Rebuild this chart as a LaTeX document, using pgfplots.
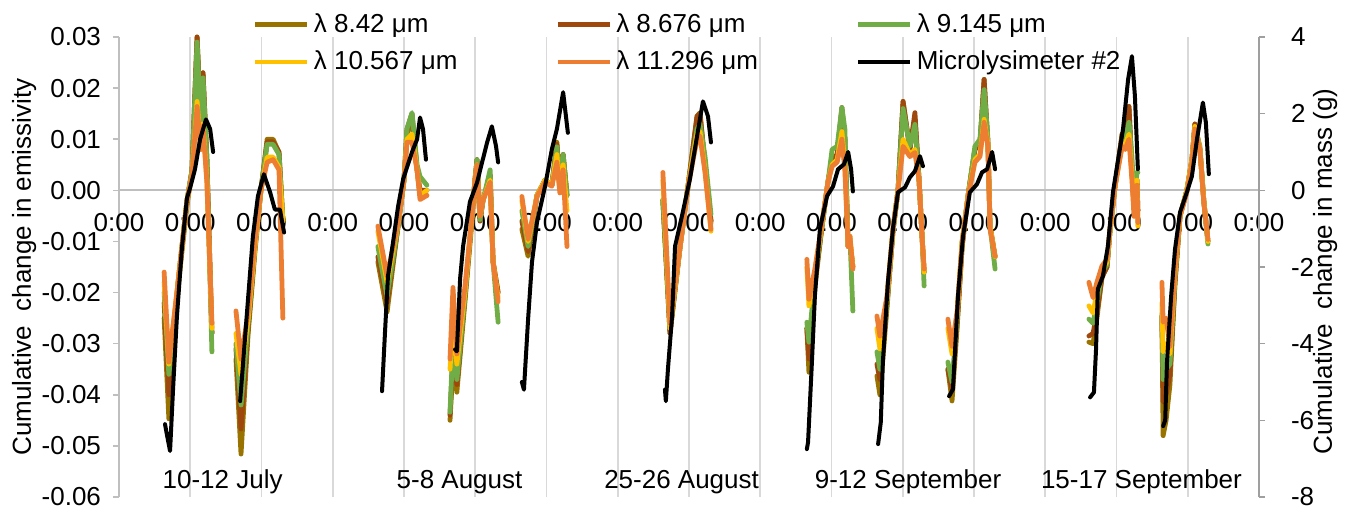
\documentclass[border=0pt]{standalone}
\usepackage{fontspec}
\setmainfont{Liberation Sans}
\usepackage{pgfplots}
\pgfplotsset{compat=1.18}

\definecolor{c842}{RGB}{153,115,0}
\definecolor{c8676}{RGB}{158,72,14}
\definecolor{c9145}{RGB}{112,173,71}
\definecolor{c10567}{RGB}{255,192,0}
\definecolor{c11296}{RGB}{237,125,49}
\definecolor{gridgray}{RGB}{217,217,217}
\definecolor{axgray}{RGB}{191,191,191}

\pgfplotsset{
  /pgf/number format/assume math mode=true,
  emis/.style={line width=2.4pt, line join=round, line cap=round},
}

\begin{document}
\begin{tikzpicture}
\path[use as bounding box] (-59.5pt,-6.5pt) rectangle (617pt,248.5pt);
\begin{axis}[
  at={(0,0)}, anchor=south west,
  scale only axis, width=570pt, height=230pt,
  font=\fontsize{13}{15.6}\selectfont,
  xmin=0, xmax=384, ymin=-0.06, ymax=0.03,
  axis x line=middle, axis y line=left,
  axis line style={-},
  x axis line style={draw=axgray, line width=1pt},
  y axis line style={draw=axgray, line width=1pt},
  hide obscured x ticks=false,
  xtick={0,24,...,384}, xticklabel={0:00},
  xtick style={draw=none},
  xticklabel style={yshift=-5pt},
  xmajorgrids, grid style={gridgray, line width=0.9pt},
  ytick={-0.06,-0.05,...,0.03},
  scaled y ticks=false,
  yticklabel style={xshift=-2.5pt, /pgf/number format/.cd, fixed, fixed zerofill, precision=2},
  ytick style={draw=axgray, line width=0.8pt},
  tick align=outside, major tick length=3pt,
  ylabel={Cumulative\ \ change in emissivity},
  every axis y label/.style={at={(axis description cs:-0.0833,0.5)}, rotate=90, anchor=center},
  unbounded coords=jump,
  clip=false,
]
% lambda 8.42
\addplot[emis, c842] coordinates {
(15.2,-0.025)(16.8,-0.0447)(19.9,-0.019)(22.9,-0.003)(24.6,0.004)(26.3,0.030)(27.6,0.012)(28.3,0.023)(29.6,0.006)(31.3,-0.028)
(35,nan)
(39.4,-0.033)(41.1,-0.0516)(43.5,-0.028)(45.8,-0.012)(47.8,0)(49.9,0.010)(51.9,0.010)(53.9,0.0074)(55.2,-0.006)
(70,nan)
(87.2,-0.014)(90.3,-0.0238)(94.0,-0.007)(96.0,0.002)(97.0,0.011)(98.7,0.014)(100.4,0.004)(101.4,-0.001)(103.7,-0.001)
(108,nan)
(111.5,-0.045)(112.5,-0.034)(113.8,-0.0395)(116.5,-0.022)(118.9,-0.006)(119.9,0.002)(120.6,0.006)(121.6,-0.006)(122.6,-0.002)(125.0,0.003)(126.0,-0.014)(127.7,-0.020)
(131,nan)
(135.7,-0.0076)(137.8,-0.0129)(140.8,-0.001)(143.5,0.002)(145.8,0.001)(147.5,0.0094)(148.5,0.001)(149.6,0.007)(150.9,-0.001)
(170,nan)
(183.2,-0.002)(185.6,-0.028)(189.0,-0.011)(191.7,0.001)(194.7,0.0145)(195.7,0.0152)(197.4,0.005)(199.4,-0.006)
(215,nan)
(231.7,-0.027)(232.4,-0.0356)(234.4,-0.019)(236.8,-0.007)(238.8,0.0016)(240.2,0.006)(241.9,0.007)(243.5,0.0155)(244.5,0.010)(245.6,-0.011)(246.2,-0.010)(247.2,-0.015)
(251,nan)
(255.3,-0.0363)(256.3,-0.040)(258.7,-0.023)(260.7,-0.008)(262.4,0)(264.1,0.0174)(266.4,0.008)(268.1,0.014)(269.5,0.002)(270.5,-0.009)(271.2,-0.016)
(275,nan)
(279.2,-0.035)(280.6,-0.0412)(282.3,-0.027)(284.0,-0.011)(286.0,-0.001)(288.3,0.008)(290.0,0.009)(291.4,0.0217)(292.7,0.009)(293.4,-0.007)(295.1,-0.013)
(310,nan)
(326.7,-0.0297)(328.1,-0.030)(329.4,-0.025)(331.1,-0.017)(332.8,-0.015)(333.8,-0.008)(335.5,0.0008)(337.9,0.011)(338.9,0.011)(340.2,0.0164)(341.2,0.004)(341.9,-0.003)(342.9,0.002)(343.2,-0.004)
(348,nan)
(351.3,-0.0246)(351.7,-0.048)(352.7,-0.045)(354.0,-0.038)(355.7,-0.018)(357.4,-0.005)(359.7,0)(361.4,0.006)(362.4,0.0129)(364.1,0.008)(365.4,-0.002)(366.8,-0.010)
};
% lambda 8.676
\addplot[emis, c8676] coordinates {
(15.2,-0.022)(16.8,-0.040)(19.9,-0.018)(22.9,-0.002)(24.6,0.004)(26.3,0.030)(27.6,0.013)(28.3,0.023)(29.6,0.006)(31.3,-0.028)
(35,nan)
(39.4,-0.031)(41.1,-0.0467)(43.5,-0.027)(45.8,-0.011)(47.8,0)(49.9,0.0095)(51.9,0.0095)(53.9,0.0075)(55.2,-0.006)
(70,nan)
(87.2,-0.013)(90.3,-0.022)(94.0,-0.007)(96.0,0.002)(97.0,0.012)(98.7,0.015)(100.4,0.004)(101.4,0)(103.7,0)
(108,nan)
(111.5,-0.044)(112.5,-0.032)(113.8,-0.038)(116.5,-0.021)(118.9,-0.005)(119.9,0.002)(120.6,0.006)(121.6,-0.006)(122.6,-0.002)(125.0,0.003)(126.0,-0.014)(127.7,-0.020)
(131,nan)
(135.7,-0.006)(137.8,-0.012)(140.8,-0.001)(143.5,0.002)(145.8,0.001)(147.5,0.009)(148.5,0.001)(149.6,0.007)(150.9,-0.001)
(170,nan)
(183.2,-0.002)(185.6,-0.028)(189.0,-0.011)(191.7,0.001)(194.7,0.0145)(195.7,0.015)(197.4,0.005)(199.4,-0.006)
(215,nan)
(231.7,-0.027)(232.4,-0.033)(234.4,-0.018)(236.8,-0.007)(238.8,0.0016)(240.2,0.006)(241.9,0.007)(243.5,0.0162)(244.5,0.010)(245.6,-0.011)(246.2,-0.010)(247.2,-0.015)
(251,nan)
(255.3,-0.034)(256.3,-0.037)(258.7,-0.022)(260.7,-0.008)(262.4,0)(264.1,0.0174)(266.4,0.008)(268.1,0.0152)(269.5,0.002)(270.5,-0.009)(271.2,-0.016)
(275,nan)
(279.2,-0.035)(280.6,-0.039)(282.3,-0.026)(284.0,-0.011)(286.0,-0.001)(288.3,0.008)(290.0,0.009)(291.4,0.0217)(292.7,0.009)(293.4,-0.007)(295.1,-0.013)
(310,nan)
(326.7,-0.0285)(328.1,-0.028)(329.4,-0.024)(331.1,-0.017)(332.8,-0.015)(333.8,-0.008)(335.5,0.0008)(337.9,0.011)(338.9,0.011)(340.2,0.0164)(341.2,0.004)(341.9,-0.003)(342.9,0.002)(343.2,-0.004)
(348,nan)
(351.3,-0.0246)(351.7,-0.0414)(352.7,-0.040)(354.0,-0.036)(355.7,-0.018)(357.4,-0.005)(359.7,0)(361.4,0.006)(362.4,0.013)(364.1,0.008)(365.4,-0.002)(366.8,-0.010)
};
% lambda 9.145
\addplot[emis, c9145] coordinates {
(15.2,-0.020)(16.8,-0.036)(19.9,-0.018)(22.9,-0.002)(24.6,0.004)(26.3,0.029)(27.6,0.012)(28.3,0.022)(29.6,0.006)(31.3,-0.0316)
(35,nan)
(39.4,-0.030)(41.1,-0.042)(43.5,-0.026)(45.8,-0.011)(47.8,0)(49.9,0.009)(51.9,0.009)(53.9,0.007)(55.2,-0.006)
(70,nan)
(87.2,-0.011)(90.3,-0.0207)(94.0,-0.007)(96.0,0.002)(97.0,0.012)(98.7,0.0152)(100.4,0.005)(101.4,0.0027)(103.7,0.001)
(108,nan)
(111.5,-0.0434)(112.5,-0.030)(113.8,-0.037)(116.5,-0.021)(118.9,-0.005)(119.9,0.002)(120.6,0.006)(121.6,-0.0057)(122.6,-0.002)(125.0,0.004)(126.0,-0.014)(127.7,-0.0258)
(131,nan)
(135.7,-0.004)(137.8,-0.011)(140.8,-0.001)(143.5,0.002)(145.8,0.001)(147.5,0.0085)(148.5,0.001)(149.6,0.007)(150.9,-0.001)
(170,nan)
(183.2,-0.0018)(185.6,-0.027)(189.0,-0.011)(191.7,0.001)(194.7,0.012)(195.7,0.013)(197.4,0.0066)(199.4,-0.0047)
(215,nan)
(231.7,-0.0258)(232.4,-0.0297)(234.4,-0.017)(236.8,-0.007)(238.8,0.0016)(240.2,0.008)(241.9,0.0086)(243.5,0.0162)(244.5,0.012)(245.6,-0.011)(246.2,-0.009)(247.2,-0.0236)
(251,nan)
(255.3,-0.0316)(256.3,-0.035)(258.7,-0.022)(260.7,-0.008)(262.4,0)(264.1,0.016)(266.4,0.0086)(268.1,0.0129)(269.5,0.002)(270.5,-0.009)(271.2,-0.0187)
(275,nan)
(279.2,-0.0336)(280.6,-0.0375)(282.3,-0.025)(284.0,-0.010)(286.0,-0.001)(288.3,0.0086)(290.0,0.010)(291.4,0.0197)(292.7,0.010)(293.4,-0.007)(295.1,-0.0154)
(310,nan)
(326.7,-0.0252)(328.1,-0.026)(329.4,-0.022)(331.1,-0.016)(332.8,-0.0145)(333.8,-0.008)(335.5,0.0008)(337.9,0.010)(338.9,0.010)(340.2,0.0133)(341.2,0.0066)(341.9,-0.002)(342.9,0.0035)(343.2,0.0035)
(348,nan)
(351.3,-0.024)(351.7,-0.037)(352.7,-0.035)(354.0,-0.034)(355.7,-0.017)(357.4,-0.005)(359.7,0)(361.4,0.006)(362.4,0.0125)(364.1,0.0086)(365.4,-0.002)(366.8,-0.0105)
};
% lambda 10.567
\addplot[emis, c10567] coordinates {
(15.2,-0.018)(16.8,-0.034)(19.9,-0.018)(22.9,-0.002)(24.6,0.003)(26.3,0.0174)(27.6,0.008)(28.3,0.013)(29.6,0.002)(31.3,-0.027)
(35,nan)
(39.4,-0.028)(41.1,-0.036)(43.5,-0.025)(45.8,-0.011)(47.8,0)(49.9,0.0065)(51.9,0.0065)(53.9,0.0045)(55.2,-0.006)
(70,nan)
(87.2,-0.008)(90.3,-0.018)(94.0,-0.0065)(96.0,0.002)(97.0,0.010)(98.7,0.011)(100.4,0.004)(101.4,-0.001)(103.7,0)
(108,nan)
(111.5,-0.035)(112.5,-0.025)(113.8,-0.034)(116.5,-0.020)(118.9,-0.005)(119.9,0.002)(120.6,0.005)(121.6,-0.005)(122.6,-0.002)(125.0,0.002)(126.0,-0.014)(127.7,-0.021)
(131,nan)
(135.7,-0.002)(137.8,-0.010)(140.8,-0.001)(143.5,0.002)(145.8,0.001)(147.5,0.007)(148.5,0)(149.6,0.005)(150.9,-0.004)
(170,nan)
(183.2,0.002)(185.6,-0.027)(189.0,-0.011)(191.7,0.001)(194.7,0.011)(195.7,0.0115)(197.4,0.004)(199.4,-0.008)
(215,nan)
(231.7,-0.015)(232.4,-0.0226)(234.4,-0.016)(236.8,-0.0065)(238.8,0.0016)(240.2,0.005)(241.9,0.006)(243.5,0.0115)(244.5,0.005)(245.6,-0.011)(246.2,-0.009)(247.2,-0.015)
(251,nan)
(255.3,-0.027)(256.3,-0.031)(258.7,-0.021)(260.7,-0.0076)(262.4,0)(264.1,0.010)(266.4,0.007)(268.1,0.008)(269.5,0.002)(270.5,-0.009)(271.2,-0.016)
(275,nan)
(279.2,-0.027)(280.6,-0.032)(282.3,-0.024)(284.0,-0.010)(286.0,-0.001)(288.3,0.006)(290.0,0.007)(291.4,0.0139)(292.7,0.009)(293.4,-0.007)(295.1,-0.013)
(310,nan)
(326.7,-0.0226)(328.1,-0.024)(329.4,-0.020)(331.1,-0.0155)(332.8,-0.014)(333.8,-0.008)(335.5,0.0008)(337.9,0.009)(338.9,0.009)(340.2,0.011)(341.2,0.003)(341.9,-0.004)(342.9,0.002)(343.2,-0.007)
(348,nan)
(351.3,-0.022)(351.7,-0.0316)(352.7,-0.030)(354.0,-0.032)(355.7,-0.016)(357.4,-0.005)(359.7,0)(361.4,0.006)(362.4,0.0125)(364.1,0.008)(365.4,-0.002)(366.8,-0.010)
};
% lambda 11.296
\addplot[emis, c11296] coordinates {
(15.2,-0.016)(16.8,-0.0336)(19.9,-0.018)(22.9,-0.002)(24.6,0.003)(26.3,0.0164)(27.6,0.008)(28.3,0.0125)(29.6,0.0016)(31.3,-0.026)
(35,nan)
(39.4,-0.0236)(41.1,-0.033)(43.5,-0.024)(45.8,-0.010)(47.8,0)(49.9,0.0055)(51.9,0.006)(53.9,0.004)(55.2,-0.025)
(70,nan)
(87.2,-0.007)(90.3,-0.0168)(94.0,-0.0063)(96.0,0.002)(97.0,0.0094)(98.7,0.0094)(100.4,0.004)(101.4,-0.0018)(103.7,-0.001)
(108,nan)
(111.5,-0.033)(112.5,-0.019)(113.8,-0.032)(116.5,-0.019)(118.9,-0.005)(119.9,0.002)(120.6,0.005)(121.6,-0.005)(122.6,-0.002)(125.0,0.0016)(126.0,-0.014)(127.7,-0.0218)
(131,nan)
(135.7,-0.0012)(137.8,-0.0096)(140.8,-0.0012)(143.5,0.0016)(145.8,0.0008)(147.5,0.0055)(148.5,-0.0005)(149.6,0.004)(150.9,-0.011)
(170,nan)
(183.2,0.0035)(185.6,-0.026)(189.0,-0.011)(191.7,0.0008)(194.7,0.010)(195.7,0.0106)(197.4,0.0035)(199.4,-0.0076)
(215,nan)
(231.7,-0.0135)(232.4,-0.0213)(234.4,-0.0154)(236.8,-0.0063)(238.8,0.0016)(240.2,0.0047)(241.9,0.0055)(243.5,0.010)(244.5,0.004)(245.6,-0.011)(246.2,-0.009)(247.2,-0.0154)
(251,nan)
(255.3,-0.0246)(256.3,-0.0285)(258.7,-0.0207)(260.7,-0.0076)(262.4,0)(264.1,0.0086)(266.4,0.0066)(268.1,0.0074)(269.5,0.002)(270.5,-0.009)(271.2,-0.0154)
(275,nan)
(279.2,-0.0252)(280.6,-0.0305)(282.3,-0.0238)(284.0,-0.0102)(286.0,-0.0012)(288.3,0.0055)(290.0,0.0066)(291.4,0.0133)(292.7,0.0086)(293.4,-0.0076)(295.1,-0.0129)
(310,nan)
(326.7,-0.018)(328.1,-0.021)(329.4,-0.018)(331.1,-0.0148)(332.8,-0.0135)(333.8,-0.0076)(335.5,0.0008)(337.9,0.0086)(338.9,0.008)(340.2,0.010)(341.2,0.002)(341.9,-0.0051)(342.9,0.001)(343.2,-0.0063)
(348,nan)
(351.3,-0.018)(351.7,-0.0258)(352.7,-0.025)(354.0,-0.0305)(355.7,-0.0154)(357.4,-0.005)(359.7,-0.0004)(361.4,0.0055)(362.4,0.012)(364.1,0.008)(365.4,-0.0024)(366.8,-0.0096)
};
% period labels
\node[anchor=base] at (axis cs:34.9,-0.0584) {10-12 July};
\node[anchor=base] at (axis cs:114.7,-0.0584) {5-8 August};
\node[anchor=base] at (axis cs:189.5,-0.0584) {25-26 August};
\node[anchor=base] at (axis cs:265.8,-0.0584) {9-12 September};
\node[anchor=base] at (axis cs:344.4,-0.0584) {15-17 September};
\end{axis}

\begin{axis}[
  at={(0,0)}, anchor=south west,
  scale only axis, width=570pt, height=230pt,
  font=\fontsize{13}{15.6}\selectfont,
  xmin=0, xmax=384, ymin=-8, ymax=4,
  axis x line=none, axis y line*=right,
  axis line style={-, draw=gray!75, line width=1pt},
  ytick={-8,-6,...,4},
  ytick style={draw=gray!75, line width=0.8pt},
  yticklabel style={xshift=9.5pt},
  tick align=outside, major tick length=3pt,
  ylabel={Cumulative\ \ change in mass (g)},
  every axis y label/.style={at={(axis description cs:1.058,0.49)}, rotate=90, anchor=center},
  unbounded coords=jump,
  legend columns=3,
  legend cell align=left,
  legend image code/.code={\draw[#1, line cap=butt] (0pt,0pt) -- (26pt,0pt);},
  legend style={draw=none, fill=none, at={(0.112,1.07)}, anchor=north west,
    row sep=4pt, /tikz/every even column/.append style={column sep=47pt}},
]
\addlegendimage{c842, line width=2.4pt}
\addlegendentry{λ 8.42 μm}
\addlegendimage{c8676, line width=2.4pt}
\addlegendentry{λ 8.676 μm}
\addlegendimage{c9145, line width=2.4pt}
\addlegendentry{λ 9.145 μm}
\addlegendimage{c10567, line width=2.4pt}
\addlegendentry{λ 10.567 μm}
\addlegendimage{c11296, line width=2.4pt}
\addlegendentry{λ 11.296 μm}
\addplot[black, line width=2pt, line join=round, line cap=round] coordinates {
(15.5,-6.1)(16.2,-6.4)(17.2,-6.8)(18.2,-5.2)(19.5,-3.3)(21.2,-1.5)(22.9,-0.2)(23.9,0.05)(25.6,0.55)(27.3,1.33)(29.3,1.85)(30.7,1.6)(31.7,1.0)
(35,nan)
(40.8,-5.5)(43.1,-3.2)(45.1,-1.2)(46.8,-0.15)(48.8,0.42)(50.9,-0.05)(52.5,-0.5)(54.2,-0.5)(55.6,-1.1)
(70,nan)
(88.6,-5.24)(89.6,-3.7)(90.6,-2.24)(92.3,-1.36)(94.0,-0.42)(95.7,0.29)(98.7,1.0)(100.4,1.33)(101.4,1.9)(102.4,1.6)(103.4,0.8)
(108,nan)
(113.2,-4.15)(113.8,-4.2)(114.9,-2.3)(115.9,-1.46)(118.2,-0.3)(120.6,0.2)(122.3,0.73)(124.0,1.25)(125.6,1.67)(127.0,1.15)(127.7,0.73)
(131,nan)
(135.7,-5.0)(136.4,-5.2)(137.8,-3.36)(139.1,-1.88)(140.8,-0.83)(143.5,0.1)(145.8,1.07)(147.5,1.6)(149.6,2.56)(151.2,1.5)
(170,nan)
(183.9,-5.2)(184.2,-5.5)(184.9,-4.67)(186.3,-3.28)(187.3,-1.46)(189.6,-0.68)(192.3,0.29)(194.7,1.41)(196.7,2.32)(198.4,1.93)(199.4,1.25)
(215,nan)
(231.7,-6.75)(232.1,-6.57)(233.4,-4.48)(234.4,-2.76)(236.1,-1.0)(238.5,-0.15)(240.5,0.1)(242.2,0.55)(244.2,0.68)(245.6,1.0)(246.6,0.55)(247.2,-0.03)
(251,nan)
(255.7,-6.62)(256.6,-6.05)(257.3,-4.48)(259.0,-2.4)(260.7,-1.0)(262.4,-0.05)(264.8,0.08)(266.4,0.34)(268.1,0.5)(269.8,0.89)(270.8,0.63)
(275,nan)
(279.6,-5.37)(280.9,-5.19)(282.6,-2.76)(284.3,-1.2)(286.6,-0.05)(289.0,0.16)(290.7,0.47)(292.4,0.55)(294.1,1.0)(295.1,0.55)
(310,nan)
(327.1,-5.4)(328.4,-5.27)(329.1,-4.15)(329.7,-2.58)(331.4,-2.24)(333.1,-1.46)(334.8,-0.05)(336.4,0.73)(338.2,1.6)(339.9,2.89)(341.2,3.5)(342.2,2.46)(343.2,0.55)
(348,nan)
(351.7,-6.15)(352.4,-6.0)(353.0,-4.48)(354.4,-2.76)(355.7,-1.54)(357.4,-0.57)(359.7,-0.05)(361.4,0.37)(363.1,1.33)(365.1,2.29)(366.1,1.77)(367.1,0.42)
};
\addlegendentry{Microlysimeter \#2}
\end{axis}
\end{tikzpicture}
\end{document}
